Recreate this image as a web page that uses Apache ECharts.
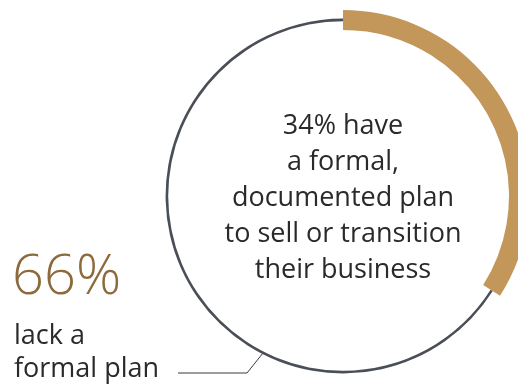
<!DOCTYPE html>
<html>
<head>
<meta charset="utf-8">
<script src="https://cdn.jsdelivr.net/npm/echarts@6/dist/echarts.min.js"></script>
<style>
  html, body { margin: 0; padding: 0; background: #ffffff; }
  #chart { width: 518px; height: 388px; }
</style>
</head>
<body>
<div id="chart"></div>
<script>
// Share of owners with / without a formal exit plan (percent)
const categories = ['have a formal plan', 'lack a formal plan'];
const shares = [34, 66];

const headline = '66%';
const sideLines = ['lack a', 'formal plan'];
const centerLines = ['34% have', 'a formal,', 'documented plan', 'to sell or transition', 'their business'];

const GOLD = '#c3965a';
const BROWN = '#8d6a3b';
const RING = '#4a4e57';
const TEXT = '#2a2a2a';
const FONT = '"Open Sans", Lato, sans-serif';

const center = [343, 196];

const chart = echarts.init(document.getElementById('chart'), null, { renderer: 'canvas' });

chart.setOption({
  animation: false,
  series: [
    {
      // thin dark ring: the "lack a plan" share
      type: 'pie',
      center: center,
      radius: [174.8, 177.4],
      startAngle: 90,
      clockwise: true,
      silent: true,
      label: { show: false },
      labelLine: { show: false },
      data: [
        { name: categories[0], value: shares[0], itemStyle: { color: 'rgba(0,0,0,0)' } },
        { name: categories[1], value: shares[1], itemStyle: { color: RING } }
      ]
    },
    {
      // thick gold arc: the "have a plan" share
      type: 'pie',
      center: center,
      radius: [166, 186],
      startAngle: 90,
      clockwise: true,
      silent: true,
      label: { show: false },
      labelLine: { show: false },
      data: [
        { name: categories[0], value: shares[0], itemStyle: { color: GOLD } },
        { name: categories[1], value: shares[1], itemStyle: { color: 'rgba(0,0,0,0)' } }
      ]
    }
  ],
  graphic: [
    {
      type: 'text',
      x: center[0],
      y: 108,
      style: {
        text: centerLines.join('\n'),
        font: '400 27px ' + FONT,
        fill: TEXT,
        align: 'center',
        lineHeight: 36
      }
    },
    {
      type: 'text',
      x: 12,
      y: 250,
      style: {
        text: headline,
        font: '300 56px ' + FONT,
        fill: BROWN
      }
    },
    {
      type: 'text',
      x: 14,
      y: 323,
      style: {
        text: sideLines[0],
        font: '400 27px ' + FONT,
        fill: TEXT
      }
    },
    {
      type: 'text',
      x: 14,
      y: 356,
      style: {
        text: sideLines[1],
        font: '400 27px ' + FONT,
        fill: TEXT
      }
    },
    {
      type: 'polyline',
      shape: { points: [[178, 373], [247, 373], [263, 353]] },
      style: { stroke: '#3a3a3a', lineWidth: 1, fill: null }
    }
  ]
});
</script>
</body>
</html>
